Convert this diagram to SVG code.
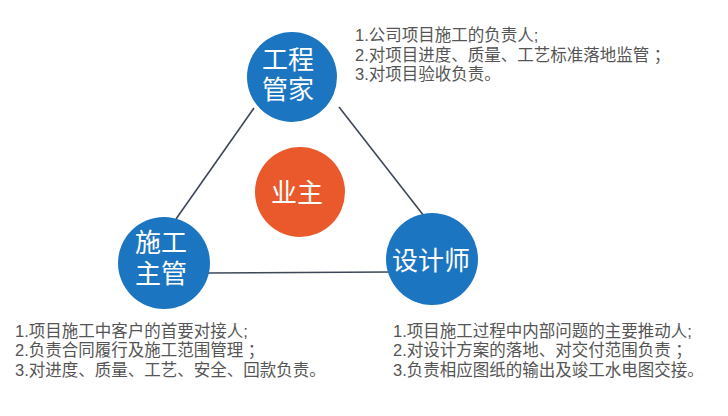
<svg xmlns="http://www.w3.org/2000/svg" width="728" height="416" viewBox="0 0 728 416">
<style>
.blue{fill:#1c75c0}
.orange{fill:#e9592b}
.ct{font-family:"Liberation Sans","Noto Sans CJK SC",sans-serif;font-size:26px;fill:#ffffff;text-anchor:middle}
.desc{font-family:"Liberation Sans","Noto Sans CJK SC",sans-serif;font-size:16.5px;fill:#555555}
.conn{stroke:#3c4858;stroke-width:1.6;fill:none}
</style>
<rect width="728" height="416" fill="#ffffff"/>
<g id="connectors">
<line class="conn" x1="254" y1="108" x2="176" y2="219"/>
<line class="conn" x1="339" y1="107" x2="424" y2="216"/>
<line class="conn" x1="208" y1="273" x2="390" y2="272"/>
</g>
<g id="gongchengguanjia">
<circle class="blue" cx="292" cy="77" r="45"/>
<text class="ct" x="288" y="69">工程</text>
<text class="ct" x="288" y="99">管家</text>
</g>
<g id="shigongzhuguan">
<circle class="blue" cx="164" cy="263" r="46"/>
<text class="ct" x="161" y="252">施工</text>
<text class="ct" x="161" y="283">主管</text>
</g>
<g id="shejishi">
<circle class="blue" cx="432" cy="259" r="46"/>
<text class="ct" x="431" y="270">设计师</text>
</g>
<g id="yezhu">
<circle class="orange" cx="300" cy="192" r="45"/>
<text class="ct" x="297" y="202">业主</text>
</g>
<g id="desc-top">
<text class="desc" x="355" y="41">1.公司项目施工的负责人;</text>
<text class="desc" x="355" y="61">2.对项目进度、质量、工艺标准落地监管 ；</text>
<text class="desc" x="355" y="80">3.对项目验收负责。</text>
</g>
<g id="desc-left">
<text class="desc" x="15" y="337">1.项目施工中客户的首要对接人;</text>
<text class="desc" x="15" y="356">2.负责合同履行及施工范围管理 ；</text>
<text class="desc" x="15" y="376">3.对进度、质量、工艺、安全、回款负责。</text>
</g>
<g id="desc-right">
<text class="desc" x="393" y="337">1.项目施工过程中内部问题的主要推动人;</text>
<text class="desc" x="393" y="356">2.对设计方案的落地、对交付范围负责 ；</text>
<text class="desc" x="393" y="376">3.负责相应图纸的输出及竣工水电图交接。</text>
</g>
</svg>
